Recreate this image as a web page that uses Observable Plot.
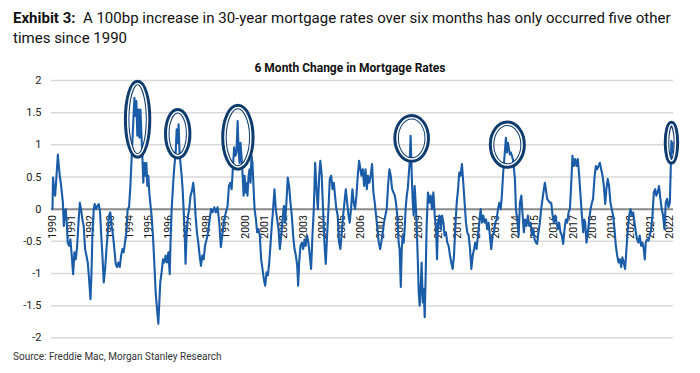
<!DOCTYPE html>
<html><head><meta charset="utf-8">
<script src="https://cdn.jsdelivr.net/npm/d3@7"></script>
<script src="https://cdn.jsdelivr.net/npm/@observablehq/plot@0.6"></script>
<style>
body{margin:0;background:#fff;}
#wrap{position:relative;width:700px;height:373px;overflow:hidden;font-family:Roboto,sans-serif;background:#fff;}
#chart{position:absolute;left:0;top:0;}
#title{position:absolute;left:13px;top:8px;font-size:15px;line-height:20px;color:#111;white-space:nowrap;}
#sub{position:absolute;left:0;width:700px;top:61px;text-align:center;font-size:12px;font-weight:bold;line-height:14px;color:#111;}
#src{position:absolute;left:13px;top:351px;font-size:10px;line-height:12px;color:#333;}
</style></head>
<body>
<div id="wrap">
<div id="chart"></div>
<div id="title"><b>Exhibit 3:</b>&nbsp; A 100bp increase in 30-year mortgage rates over six months has only occurred five other<br>times since 1990</div>
<div id="sub">6 Month Change in Mortgage Rates</div>
<div id="src">Source: Freddie Mac, Morgan Stanley Research</div>
</div>
<script>
// [decimal year, 6-month change in percentage points]
const points1990s = [
[1990.00,0.00],[1990.03,0.49],[1990.09,0.28],[1990.14,0.21],[1990.21,0.52],[1990.28,0.85],[1990.33,0.67],[1990.38,0.52],[1990.43,0.41],[1990.48,0.28],
[1990.54,0.10],[1990.59,-0.26],[1990.64,-0.05],[1990.69,0.00],[1990.74,-0.21],[1990.79,-0.52],[1990.86,-0.57],[1990.93,-0.47],[1991.00,-0.72],[1991.07,-1.01],
[1991.14,-0.67],[1991.21,-0.78],[1991.28,-0.57],[1991.35,-0.21],[1991.42,0.10],[1991.48,0.00],[1991.55,-0.16],[1991.62,-0.26],[1991.69,-0.62],[1991.76,-0.72],
[1991.83,-0.83],[1991.90,-1.09],[1991.97,-1.40],[1992.02,-1.03],[1992.07,-0.41],[1992.14,0.00],[1992.19,0.08],[1992.26,0.00],[1992.33,0.05],[1992.40,0.08],
[1992.47,-0.05],[1992.52,-0.36],[1992.59,-0.72],[1992.66,-1.14],[1992.73,-0.93],[1992.80,-0.62],[1992.87,-0.36],[1992.93,-0.10],[1993.00,-0.05],[1993.07,-0.26],
[1993.14,-0.41],[1993.21,-0.62],[1993.28,-0.85],[1993.35,-0.90],[1993.42,-0.83],[1993.49,-0.90],[1993.56,-0.72],[1993.63,-0.62],[1993.69,-0.67],[1993.76,-0.52],
[1993.83,-0.36],[1993.90,0.00],[1993.97,0.03],[1994.04,0.36],[1994.11,0.83],[1994.18,1.29],[1994.25,1.73],[1994.30,1.45],[1994.35,1.68],[1994.40,1.14],
[1994.45,1.55],[1994.51,1.11],[1994.56,1.55],[1994.61,1.19],[1994.66,0.83],[1994.71,0.41],[1994.76,0.72],[1994.82,0.52],[1994.87,0.72],[1994.92,0.36],
[1994.97,0.52],[1995.02,0.26],[1995.07,0.10],[1995.14,-0.10],[1995.21,-0.41],[1995.28,-0.83],[1995.35,-1.29],[1995.42,-1.55],[1995.49,-1.78],[1995.54,-1.45],
[1995.59,-1.14],[1995.66,-0.98],[1995.73,-0.78],[1995.80,-0.83],[1995.87,-0.72],[1995.94,-0.83],[1996.01,-0.67],[1996.08,-1.01],[1996.13,-0.41],[1996.18,0.00],
[1996.25,0.36],[1996.32,0.67],[1996.39,0.88],[1996.44,1.24],[1996.49,1.03],[1996.54,1.32],[1996.59,0.88],[1996.65,0.67],[1996.70,0.52],[1996.75,0.31],
[1996.80,0.00],[1996.85,-0.31],[1996.90,-0.85],[1996.96,-0.36],[1997.03,-0.10],[1997.09,0.00],[1997.16,0.21],[1997.23,0.28],[1997.30,0.41],[1997.35,0.26],
[1997.42,-0.10],[1997.49,-0.36],[1997.56,-0.52],[1997.63,-0.72],[1997.70,-0.88],[1997.77,-0.72],[1997.84,-0.78],[1997.91,-0.57],
[1998.04,-0.41],[1998.13,-0.21],[1998.22,0.00],[1998.30,-0.05],[1998.39,0.03],[1998.47,-0.05],[1998.56,0.03],[1998.65,-0.21],[1998.73,-0.59],[1998.82,-0.36],
[1998.91,-0.16],[1998.99,-0.05],[1999.08,0.05],[1999.15,0.36],[1999.22,0.41],[1999.29,0.31],[1999.35,0.62],[1999.42,0.96],[1999.49,0.83],[1999.54,0.88],
[1999.60,1.37],[1999.65,0.93],[1999.70,0.72],[1999.75,1.03],[1999.80,0.83],[1999.86,0.52],[1999.91,0.21],[1999.96,0.52]
];
const points2000s = [
[2000.01,0.26],[2000.06,0.41],[2000.11,0.21],[2000.17,0.52],[2000.22,0.62],[2000.27,0.41],[2000.32,0.83],[2000.37,0.72],[2000.43,0.31],[2000.48,0.00],
[2000.55,-0.16],[2000.61,-0.36],[2000.68,-0.31],[2000.75,-0.41],[2000.82,-0.78],[2000.89,-0.93],[2000.96,-1.09],[2001.03,-1.19],[2001.10,-0.98],[2001.17,-1.03],
[2001.24,-0.83],[2001.30,-0.57],[2001.37,-0.26],[2001.44,0.00],[2001.51,0.31],[2001.58,0.00],[2001.65,-0.16],[2001.72,-0.31],[2001.79,-0.62],[2001.86,-0.41],
[2001.93,-0.16],[2002.00,0.05],[2002.06,-0.21],[2002.13,0.10],[2002.20,0.49],[2002.27,0.36],[2002.34,0.10],[2002.41,-0.10],[2002.48,-0.41],[2002.55,-0.62],
[2002.62,-0.72],[2002.69,-0.88],[2002.74,-1.19],[2002.79,-0.83],[2002.86,-0.57],[2002.93,-0.52],[2003.00,-0.62],[2003.07,-0.47],[2003.13,-0.57],[2003.20,-0.41],
[2003.27,-0.52],[2003.34,-0.72],[2003.41,-0.93],[2003.48,-0.41],[2003.55,0.00],[2003.62,0.72],[2003.69,0.31],[2003.76,0.00],[2003.83,0.52],[2003.89,0.75],
[2003.96,0.52],[2004.03,0.00],[2004.10,-0.52],[2004.17,-0.85],[2004.24,-0.41],[2004.31,0.00],[2004.38,0.47],[2004.45,0.52],[2004.52,0.31],[2004.59,0.41],
[2004.65,0.21],[2004.72,0.00],[2004.79,-0.10],[2004.86,-0.52],[2004.93,-0.62],[2005.00,-0.36],[2005.07,-0.10],[2005.14,0.10],[2005.21,0.31],[2005.28,0.10],
[2005.35,-0.10],[2005.41,-0.21],[2005.48,0.00],[2005.55,0.31],[2005.62,0.10],[2005.69,0.00],[2005.76,0.21],[2005.83,0.52],[2005.90,0.75],
[2006.02,0.52],[2006.09,0.62],[2006.16,0.36],[2006.23,0.62],[2006.30,0.31],[2006.36,0.52],[2006.43,0.41],[2006.50,0.52],[2006.57,0.70],[2006.64,0.26],
[2006.71,0.10],[2006.78,-0.10],[2006.85,-0.31],[2006.92,-0.52],[2006.99,-0.62],[2007.05,-0.52],[2007.12,-0.36],[2007.19,-0.21],[2007.26,-0.10],[2007.33,0.00],
[2007.40,0.36],[2007.47,0.62],[2007.54,0.52],[2007.61,0.31],[2007.68,0.26],[2007.75,0.21],[2007.81,0.10],[2007.88,-0.10],[2007.95,-0.52],[2008.00,-0.62],
[2008.06,-1.21],[2008.11,-0.62],[2008.16,-0.41],[2008.21,-0.52],[2008.26,-0.31],[2008.31,0.00],[2008.37,0.21],[2008.42,0.31],[2008.47,0.52],[2008.52,0.72],
[2008.57,1.14],[2008.63,0.52],[2008.68,0.10],[2008.73,-0.10],[2008.78,0.36],[2008.83,0.10],[2008.88,-0.21],[2008.94,-0.78],[2008.99,-1.29],[2009.04,-1.50],
[2009.09,-1.24],[2009.14,-0.83],[2009.20,-1.45],[2009.25,-1.24],[2009.30,-1.68],[2009.35,-1.03],[2009.40,-0.26],[2009.47,0.26],[2009.54,0.10],[2009.61,0.21],
[2009.68,0.00],[2009.75,0.26],[2009.82,-0.10],[2009.89,-0.31],[2009.94,-0.78],[2009.99,-0.21]
];
const points2010s = [
[2010.06,-0.10],[2010.13,-0.31],[2010.20,-0.10],[2010.27,-0.21],[2010.33,-0.41],[2010.40,-0.36],[2010.47,-0.52],[2010.54,-0.57],[2010.61,-0.72],[2010.68,-0.83],
[2010.75,-0.93],[2010.82,-0.72],[2010.89,-0.26],[2010.96,0.10],[2011.03,0.31],[2011.09,0.57],[2011.16,0.52],[2011.23,0.70],[2011.30,0.41],[2011.37,0.10],
[2011.44,-0.21],[2011.51,-0.36],[2011.58,-0.41],[2011.65,-0.62],[2011.72,-0.93],[2011.79,-0.72],[2011.86,-0.62],[2011.92,-0.52],[2011.99,-0.62],[2012.06,-0.41],
[2012.13,-0.21],[2012.20,0.00],[2012.27,-0.21],[2012.34,-0.10],[2012.41,-0.21],[2012.48,-0.16],[2012.54,-0.31],[2012.61,-0.21],[2012.68,-0.41],[2012.75,-0.62],
[2012.82,-0.41],[2012.89,-0.36],[2012.96,-0.21],[2013.03,-0.16],[2013.10,0.00],[2013.17,0.10],[2013.24,0.00],[2013.30,0.21],[2013.37,0.57],[2013.44,0.83],
[2013.51,1.11],[2013.56,0.88],[2013.62,1.03],[2013.67,0.93],[2013.72,0.85],[2013.77,0.88],[2013.82,0.83],[2013.87,0.78],[2013.93,0.62],[2013.98,0.47],
[2014.03,0.00],[2014.10,-0.16],[2014.17,-0.41],[2014.24,0.10],[2014.31,0.21],[2014.38,-0.10],[2014.44,-0.36],[2014.51,-0.16],[2014.58,-0.26],[2014.65,-0.10],
[2014.72,-0.26],[2014.79,-0.21],[2014.86,-0.41],[2014.93,-0.31],[2015.00,-0.47],[2015.07,-0.52],[2015.13,-0.54],[2015.20,-0.36],[2015.27,-0.21],[2015.34,0.00],
[2015.41,0.16],[2015.48,0.31],[2015.53,0.41],[2015.58,0.31],[2015.65,0.16],[2015.72,0.13],[2015.79,0.10],[2015.86,0.10],[2015.93,-0.10],[2016.00,-0.21],
[2016.07,-0.10],[2016.14,-0.21],[2016.21,-0.31],[2016.27,-0.21],[2016.34,-0.36],[2016.41,-0.41],[2016.48,-0.54],[2016.55,-0.31],[2016.62,-0.16],[2016.69,-0.21],
[2016.76,-0.05],[2016.83,0.00],[2016.90,0.41],[2016.96,0.83],[2017.03,0.67],[2017.10,0.78],[2017.17,0.67],[2017.24,0.78],[2017.31,0.52],[2017.38,0.21],
[2017.45,-0.10],[2017.52,-0.36],[2017.57,-0.16],[2017.62,-0.21],[2017.69,-0.52],[2017.76,-0.36],[2017.83,-0.16],[2017.90,0.00],[2017.97,0.10],[2018.03,0.16],
[2018.10,0.47],[2018.17,0.67],[2018.24,0.62],[2018.31,0.67],[2018.38,0.72],[2018.45,0.62],[2018.52,0.52],[2018.59,0.36],[2018.66,0.08],[2018.72,0.31],
[2018.79,0.47],[2018.86,0.36],[2018.93,0.10],[2019.00,0.00],[2019.07,-0.10],[2019.14,-0.31],[2019.21,-0.57],[2019.28,-0.72],[2019.35,-0.83],[2019.42,-0.78],
[2019.49,-0.90],[2019.55,-0.75],[2019.62,-0.83],[2019.69,-0.93],[2019.76,-0.62],[2019.83,-0.31],[2019.90,-0.10],[2019.97,0.00]
];
const points2020s = [
[2020.04,-0.10],[2020.11,-0.05],[2020.18,-0.21],[2020.25,-0.36],[2020.31,-0.47],[2020.38,-0.52],[2020.45,-0.41],[2020.52,-0.57],[2020.59,-0.52],[2020.66,-0.62],
[2020.71,-0.78],[2020.76,-0.52],[2020.83,-0.47],[2020.90,-0.49],[2020.97,-0.41],[2021.04,-0.31],[2021.11,-0.10],[2021.18,0.26],[2021.25,0.31],[2021.31,0.21],
[2021.38,0.26],[2021.45,0.36],[2021.52,0.16],[2021.59,0.00],[2021.66,-0.10],[2021.73,-0.31],[2021.80,0.10],[2021.87,0.16],[2021.94,0.03],[2022.01,0.10],
[2022.06,0.67],[2022.09,1.06],[2022.13,0.88],[2022.16,1.03]
];

// highlighted episodes: centre (year, value) and half extents (years, percentage points)
const circleDates = [1994.44, 1996.52, 1999.64, 2008.65, 2013.61, 2022.12];
const circleValues = [1.39, 1.165, 1.11, 1.093, 0.994, 1.025];
const circleHalfYears = [0.71, 0.71, 0.865, 0.95, 0.96, 0.40];
const circleHalfValues = [0.615, 0.40, 0.52, 0.38, 0.375, 0.34];

const yTicks = [-2, -1.5, -1, -0.5, 0, 0.5, 1, 1.5, 2];
const gridValues = [-2, -1.5, -1, -0.5, 0.5, 1, 1.5, 2];
const yearTicks = [1990,1991,1992,1993,1994,1995,1996,1997,1998,1999,2000,2001,2002,2003,2004,2005,2006,2007,2008,2009,2010,2011,2012,2013,2014,2015,2016,2017,2018,2019,2020,2021,2022];

const series = [...points1990s, ...points2000s, ...points2010s, ...points2020s];
const circles = circleDates.map((d, i) => ({x: d, y: circleValues[i], hx: circleHalfYears[i], hy: circleHalfValues[i]}));

const NAVY = "#0f3c6e";
function ellipseMark(index, scales) {
  const sx = scales.x, sy = scales.y;
  const g = d3.create("svg:g");
  for (const c of circles) {
    const cx = sx(c.x), cy = sy(c.y);
    const rx = sx(c.x + c.hx) - cx;
    const ry = cy - sy(c.y + c.hy);
    g.append("ellipse").attr("cx", cx).attr("cy", cy).attr("rx", rx - 2.75).attr("ry", ry - 2.75)
      .attr("fill", "none").attr("stroke", NAVY).attr("stroke-width", 5.5);
    g.append("ellipse").attr("cx", cx).attr("cy", cy).attr("rx", rx - 3.75).attr("ry", ry - 3.75)
      .attr("fill", "none").attr("stroke", "#fff").attr("stroke-width", 1.5);
  }
  return g.node();
}

const chart = Plot.plot({
  width: 700, height: 373,
  marginTop: 80, marginBottom: 35.7, marginLeft: 51, marginRight: 27,
  x: {domain: [1989.95, 2022.2], axis: null},
  y: {domain: [-2, 2], axis: null},
  style: {fontFamily: "Roboto, sans-serif", background: "transparent", overflow: "visible"},
  marks: [
    Plot.ruleY(gridValues, {stroke: "#d9d9d9", strokeWidth: 1.5}),
    Plot.ruleY([0], {stroke: "#8a8a8a", strokeWidth: 2}),
    Plot.text(yTicks, {y: d => d, frameAnchor: "left", textAnchor: "end", dx: -10, text: d => String(d), fontSize: 11, fill: "#222"}),
    Plot.text(yearTicks, {x: d => d, y: () => 0, text: d => String(d), rotate: -90, textAnchor: "end", dy: 6, fontSize: 10.5, fill: "#111"}),
    Plot.line(series, {x: d => d[0], y: d => d[1], stroke: "#1a5ca8", strokeWidth: 2.1, strokeLinejoin: "round"}),
    ellipseMark
  ]
});
document.getElementById("chart").appendChild(chart);
</script>
</body></html>
